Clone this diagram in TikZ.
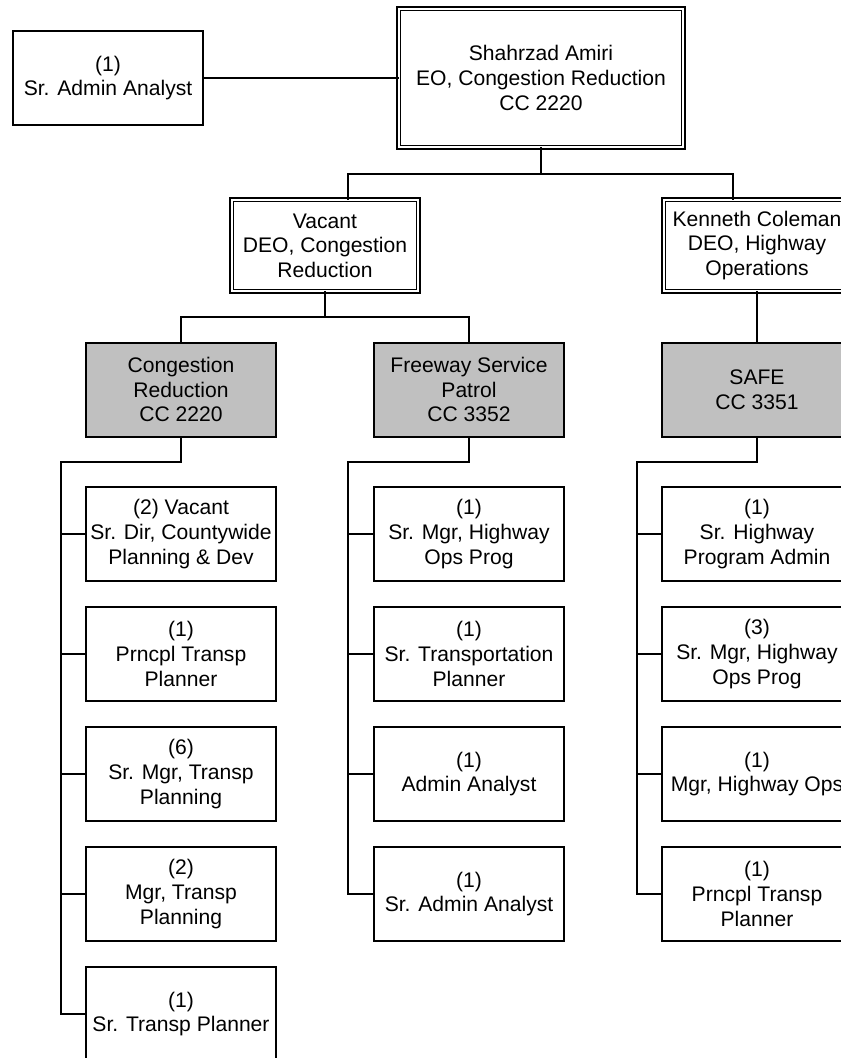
\documentclass[tikz,border=0pt]{standalone}
\usepackage{fontspec}
\setmainfont{Liberation Sans}
\definecolor{boxgrey}{RGB}{192,192,192}
\begin{document}
\begin{tikzpicture}[x=1pt,y=-1pt,
  every node/.style={font=\fontsize{21.1}{24.6}\selectfont, align=center, inner sep=0pt, outer sep=0pt},
  box/.style={draw, line width=2pt, fill=white, minimum width=190pt, minimum height=94pt},
  greybox/.style={box, fill=boxgrey},
  dbl/.style={draw, line width=1.8pt, double, double distance=1.8pt, minimum width=186.6pt, minimum height=91.6pt},
  conn/.style={line width=2pt}]
\useasboundingbox (0,0) rectangle (841,1058);
\clip (0,0) rectangle (841,1058);
% top level
\node[box] (sra) at (108,78) {(1)\\Sr. Admin Analyst};
\node[dbl, minimum width=284.6pt, minimum height=138.6pt] (eo) at (541,78) {Shahrzad Amiri\\EO, Congestion Reduction\\CC 2220};
% deputies
\node[dbl] (vac) at (325,245.5) {Vacant\\DEO, Congestion\\Reduction};
\node[dbl] (ken) at (757,245.5) {Kenneth Coleman\\DEO, Highway\\Operations};
% sections
\node[greybox] (cr) at (181,389.5) {Congestion\\Reduction\\CC 2220};
\node[greybox] (fsp) at (469,389.5) {Freeway Service\\Patrol\\CC 3352};
\node[greybox] (safe) at (757,389.5) {SAFE\\CC 3351};
% congestion reduction staff
\node[box] (l1) at (181,534) {(2) Vacant\\Sr. Dir, Countywide\\Planning \& Dev};
\node[box] (l2) at (181,654) {(1)\\Prncpl Transp\\Planner};
\node[box] (l3) at (181,774) {(6)\\Sr. Mgr, Transp\\Planning};
\node[box] (l4) at (181,894) {(2)\\Mgr, Transp\\Planning};
\node[box] (l5) at (181,1014) {(1)\\Sr. Transp Planner};
% freeway service patrol staff
\node[box] (m1) at (469,534) {(1)\\Sr. Mgr, Highway\\Ops Prog};
\node[box] (m2) at (469,654) {(1)\\Sr. Transportation\\Planner};
\node[box] (m3) at (469,774) {(1)\\Admin Analyst};
\node[box] (m4) at (469,894) {(1)\\Sr. Admin Analyst};
% SAFE staff
\node[box] (r1) at (757,534) {(1)\\Sr. Highway\\Program Admin};
\node[box] (r2) at (757,654) {(3)\\Sr. Mgr, Highway\\Ops Prog};
\node[box] (r3) at (757,774) {(1)\\Mgr, Highway Ops};
\node[box] (r4) at (757,894) {(1)\\Prncpl Transp\\Planner};
% connectors
\coordinate (j1) at (541,174);
\coordinate (xa) at (348,0);
\coordinate (xb) at (733,0);
\draw[conn] (sra.east) -- (eo.west);
\draw[conn] (eo.south) -- (j1);
\draw[conn] (xa |- vac.north) |- (j1) -| (xb |- ken.north);
\coordinate (j2) at (325,317);
\draw[conn] (vac.south) -- (j2);
\draw[conn] (cr.north) |- (j2) -| (fsp.north);
\draw[conn] (ken.south) -- (safe.north);
\coordinate (s1) at (61,462);
\coordinate (s2) at (348,462);
\coordinate (s3) at (637,462);
\draw[conn] (cr.south) |- (s1) -- (s1 |- l5.west) -- (l5.west);
\foreach \n in {l1,l2,l3,l4} \draw[conn] (s1 |- \n.west) -- (\n.west);
\draw[conn] (fsp.south) |- (s2) -- (s2 |- m4.west) -- (m4.west);
\foreach \n in {m1,m2,m3} \draw[conn] (s2 |- \n.west) -- (\n.west);
\draw[conn] (safe.south) |- (s3) -- (s3 |- r4.west) -- (r4.west);
\foreach \n in {r1,r2,r3} \draw[conn] (s3 |- \n.west) -- (\n.west);
\end{tikzpicture}
\end{document}
